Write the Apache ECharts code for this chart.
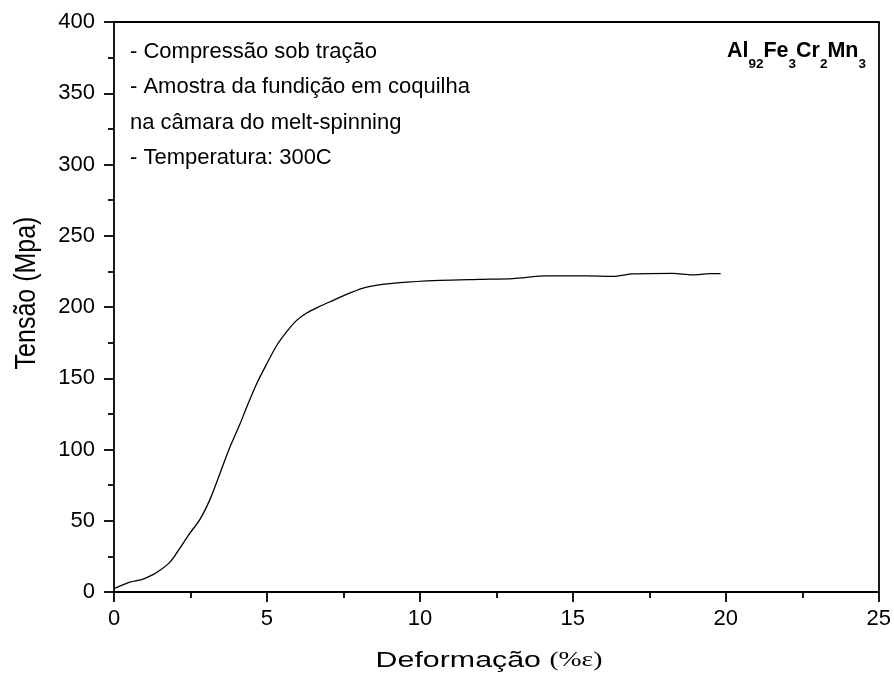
<!DOCTYPE html>
<html><head><meta charset="utf-8">
<script src="https://cdn.jsdelivr.net/npm/echarts@6/dist/echarts.min.js"></script>
<style>html,body{margin:0;padding:0;background:#fff}#c{width:894px;height:675px}</style>
</head><body><div id="c"></div>
<script>
const strain = [0, 0.52, 0.9, 1.29, 1.5, 1.83, 2.1, 2.43, 2.81, 3.14, 3.46, 3.79, 4.12, 4.34, 4.66, 4.99, 5.32, 5.64, 5.97, 6.3, 6.73, 7.17, 7.66, 8.26, 9.35, 10.65, 11.96, 13.04, 14.14, 15.44, 16.3, 16.96, 18.27, 18.9, 19.48, 19.83];
const stress = [2.4, 7.0, 8.7, 12.4, 15.2, 21, 29, 39.8, 51, 65, 83, 101.7, 118, 129.8, 146, 160, 173, 182.5, 190.6, 195.8, 200.5, 204.7, 209.4, 214, 217.1, 218.7, 219.4, 219.9, 221.8, 221.8, 221.5, 223.2, 223.6, 222.5, 223.4, 223.4];
const xTicks = [0, 5, 10, 15, 20, 25];
const yTicks = [0, 50, 100, 150, 200, 250, 300, 350, 400];
const notes = ['- Compressão sob tração', '- Amostra da fundição em coquilha', 'na câmara do melt-spinning', '- Temperatura: 300C'];
const xTitle = 'Deformação ';
const xTitleUnit = '(%ε)';
const yTitle = 'Tensão (Mpa)';

const chart = echarts.init(document.getElementById('c'));
const font = 'Liberation Sans, Arial, sans-serif';
const lineSt = {color: '#000', width: 1.8};
const axisLine = {show: true, onZero: false, lineStyle: lineSt};
chart.setOption({
  animation: false,
  grid: {left: 114, right: 15, top: 22, bottom: 83},
  xAxis: [{
    type: 'value', min: xTicks[0], max: xTicks[xTicks.length-1], interval: 5,
    axisLine: axisLine,
    axisTick: {show: true, inside: false, length: 10, lineStyle: lineSt},
    minorTick: {show: true, splitNumber: 2, length: 6, lineStyle: lineSt},
    splitLine: {show: false},
    axisLabel: {color: '#000', fontFamily: font, fontSize: 22, margin: 16}
  }, {
    type: 'value', position: 'top', min: 0, max: 25,
    axisLine: axisLine, axisTick: {show: false}, axisLabel: {show: false}, splitLine: {show: false}
  }],
  yAxis: [{
    type: 'value', min: yTicks[0], max: yTicks[yTicks.length-1], interval: 50,
    axisLine: axisLine,
    axisTick: {show: true, inside: false, length: 10, lineStyle: lineSt},
    minorTick: {show: true, splitNumber: 2, length: 6, lineStyle: lineSt},
    splitLine: {show: false},
    axisLabel: {color: '#000', fontFamily: font, fontSize: 22, margin: 19}
  }, {
    type: 'value', position: 'right', min: 0, max: 400,
    axisLine: axisLine, axisTick: {show: false}, axisLabel: {show: false}, splitLine: {show: false}
  }],
  series: [{
    type: 'line', data: strain.map((x, i) => [x, stress[i]]),
    showSymbol: false, smooth: 0.3,
    lineStyle: {color: '#000', width: 1.3}
  }],
  graphic: [
    ...notes.map((t, i) => ({
      type: 'text', x: 130, y: 52 + i * 35.4,
      style: {text: t, font: '22px ' + font, fill: '#000', verticalAlign: 'middle', align: 'left'}
    })),
    {
      type: 'text', x: 866, y: 50,
      style: {
        text: '{m|Al}{s|92}{m|Fe}{s|3}{m|Cr}{s|2}{m|Mn}{s|3}',
        align: 'right', verticalAlign: 'top',
        rich: {
          m: {fontFamily: font, fontWeight: 'bold', fontSize: 21.5, fill: '#000', lineHeight: 21, padding: [0, 0, 9, 0], verticalAlign: 'bottom'},
          s: {fontFamily: font, fontWeight: 'bold', fontSize: 13.5, fill: '#000', lineHeight: 12, verticalAlign: 'bottom'}
        }
      }
    },
    {
      type: 'text', x: 489, y: 661, scaleX: 1.38,
      style: {
        text: '{a|' + xTitle + '}{b|' + xTitleUnit + '}',
        align: 'center', verticalAlign: 'middle',
        rich: {
          a: {fontFamily: font, fontSize: 22, fill: '#000', verticalAlign: 'middle'},
          b: {fontFamily: 'Liberation Serif, serif', fontSize: 20, fill: '#000', verticalAlign: 'middle'}
        }
      }
    },
    {
      type: 'text', x: 27, y: 293, rotation: Math.PI / 2, scaleY: 1.15,
      style: {text: yTitle, font: '25px ' + font, fill: '#000', align: 'center', verticalAlign: 'middle'}
    }
  ]
});
</script></body></html>
